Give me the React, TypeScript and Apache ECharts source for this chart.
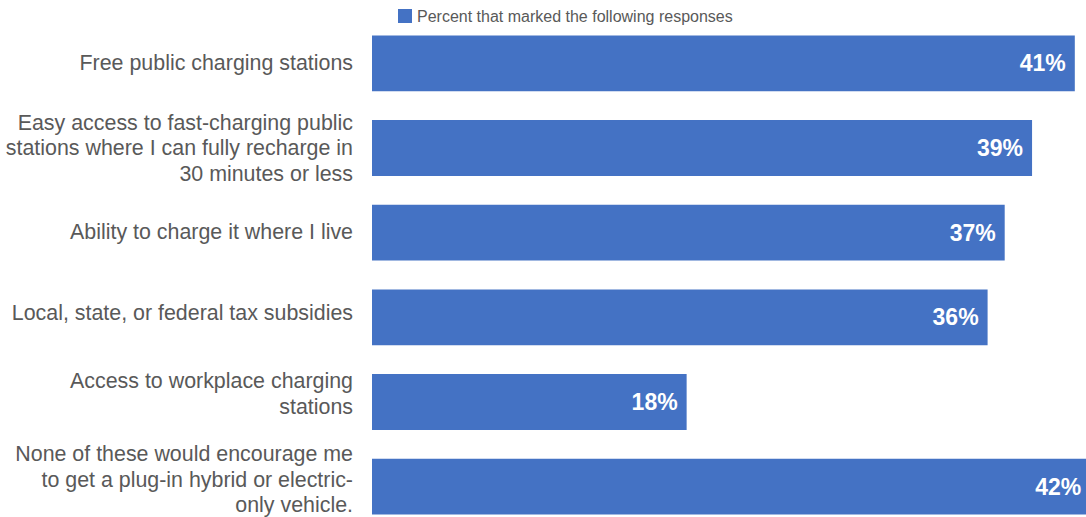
import React, { useEffect, useRef } from "react";
import * as echarts from "echarts";

const categories = [
  "Free public charging stations",
  "Easy access to fast-charging public\nstations where I can fully recharge in\n30 minutes or less",
  "Ability to charge it where I live",
  "Local, state, or federal tax subsidies",
  "Access to workplace charging\nstations",
  "None of these would encourage me\nto get a plug-in hybrid or electric-\nonly vehicle.",
];
const values = [41.1, 38.6, 37.0, 36.0, 18.4, 42.0];
const valueLabels = ["41%", "39%", "37%", "36%", "18%", "42%"];
const seriesName = "Percent that marked the following responses";

// vertical nudge (px, upward) of each category label, as seen in the reference
const labelLift = [0, 0, 1, 4, 8, 7];

export default function App() {
  const ref = useRef<HTMLDivElement>(null);
  useEffect(() => {
    if (!ref.current) return;
    const chart = echarts.init(ref.current, undefined, { renderer: "svg" });
    const rich: any = {};
    labelLift.forEach((l, i) => {
      rich["sp" + i] = { lineHeight: Math.max(1, l * 2), fontSize: 1, height: Math.max(1, l * 2) };
    });
    chart.setOption({
      animation: false,
      textStyle: { fontFamily: "Liberation Sans, Arial, sans-serif" },
      legend: {
        top: 3,
        left: 393,
        itemWidth: 14,
        itemHeight: 14,
        icon: "rect",
        textStyle: { fontSize: 16, color: "#595959" },
        data: [seriesName],
      },
      grid: { left: 372, top: 21, width: 855, height: 508 },
      xAxis: {
        type: "value",
        min: 0,
        max: 50,
        show: false,
        splitLine: { show: false },
      },
      yAxis: {
        type: "category",
        inverse: true,
        data: categories,
        axisLine: { show: false },
        axisTick: { show: false },
        axisLabel: {
          fontSize: 21.4,
          color: "#595959",
          lineHeight: 25.5,
          margin: 19,
          align: "right",
          rich,
          formatter: (v: string, i: number) =>
            labelLift[i] > 0 ? `${v}\n{sp${i}| }` : v,
        },
      },
      series: [
        {
          name: seriesName,
          type: "bar",
          data: values,
          barCategoryGap: "34%",
          itemStyle: { color: "#4472C4" },
          label: {
            show: true,
            position: "insideRight",
            distance: 9,
            color: "#ffffff",
            fontSize: 23,
            fontWeight: "bold",
            formatter: (p: any) => valueLabels[p.dataIndex],
          },
        },
      ],
    });
    return () => chart.dispose();
  }, []);
  return (
    <div
      style={{ position: "absolute", left: 0, top: 0, width: 1086, height: 517, overflow: "hidden", background: "#fff" }}
    >
      <div ref={ref} style={{ width: 1300, height: 560 }} />
    </div>
  );
}
